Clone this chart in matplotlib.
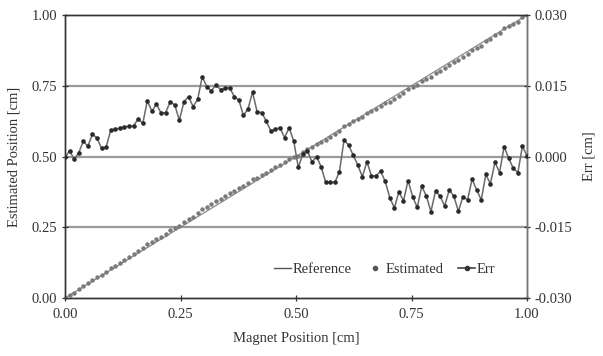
import numpy as np
import matplotlib
matplotlib.use("Agg")
import matplotlib.pyplot as plt
from matplotlib.lines import Line2D

plt.rcParams['font.family'] = ['Liberation Serif', 'DejaVu Serif']

err = [-0.0002, 0.0012, -0.0006, 0.0008, 0.0032, 0.0022, 0.0047, 0.0039, 0.0017, 0.0020,
       0.0056, 0.0058, 0.0060, 0.0063, 0.0064, 0.0065, 0.0080, 0.0070, 0.0118, 0.0096,
       0.0111, 0.0092, 0.0093, 0.0116, 0.0109, 0.0077, 0.0116, 0.0127, 0.0106, 0.0121,
       0.0169, 0.0148, 0.0139, 0.0152, 0.0142, 0.0145, 0.0146, 0.0127, 0.0120, 0.0087,
       0.0101, 0.0136, 0.0095, 0.0093, 0.0075, 0.0054, 0.0058, 0.0061, 0.0040, 0.0061,
       0.0033, -0.0023, 0.0005, 0.0012, -0.0012, 0.0000, -0.0022, -0.0055, -0.0055, -0.0055,
       -0.0032, 0.0035, 0.0024, 0.0003, -0.0018, -0.0043, -0.0011, -0.0041, -0.0041, -0.0031,
       -0.0053, -0.0087, -0.0109, -0.0075, -0.0094, -0.0051, -0.0085, -0.0108, -0.0063, -0.0084,
       -0.0117, -0.0073, -0.0084, -0.0105, -0.0071, -0.0084, -0.0116, -0.0085, -0.0092, -0.0048,
       -0.0071, -0.0092, -0.0038, -0.0058, -0.0012, -0.0034, 0.0021, -0.0004, -0.0025, -0.0034,
       0.0022, 0.0001]

magnet_pos = np.linspace(0.0, 1.0, len(err))
reference = magnet_pos
estimated = magnet_pos + np.array(err)

x_ticks = [0.0, 0.25, 0.5, 0.75, 1.0]
y_ticks = [0.0, 0.25, 0.5, 0.75, 1.0]
err_ticks = [-0.030, -0.015, 0.0, 0.015, 0.030]

fig = plt.figure(figsize=(6.03, 3.56), dpi=100)
ax = fig.add_axes([65/603, 1-298/356, (527-65)/603, (298-15)/356])
ax2 = ax.twinx()

for yv in [0.25, 0.5, 0.75]:
    ax.axhline(yv, color='#9a9a9a', lw=1.6, zorder=1)

ax.plot(magnet_pos, reference, color='#8a8a8a', lw=0.9, zorder=2)
ax.plot(magnet_pos, estimated, linestyle='none', marker='o', ms=3.2,
        color='#7a7a7a', mec='none', zorder=3)
ax2.plot(magnet_pos, err, color='#6a6a6a', lw=1.1, marker='o', ms=2.3,
         mfc='#2a2a2a', mec='#2a2a2a', zorder=4)

ax.set_xlim(0, 1)
ax.set_ylim(0, 1)
ax2.set_ylim(-0.03, 0.03)
ax.set_xticks(x_ticks)
ax.set_xticklabels([f"{v:.2f}" for v in x_ticks])
ax.set_yticks(y_ticks)
ax.set_yticklabels([f"{v:.2f}" for v in y_ticks])
ax2.set_yticks(err_ticks)
ax2.set_yticklabels([f"{v:.3f}" for v in err_ticks])

for a in (ax, ax2):
    a.tick_params(labelsize=10.5, colors='#333333', length=4, width=0.9, direction='inout')
    for s in a.spines.values():
        s.set_color('#333333')
        s.set_linewidth(1.0)
ax.tick_params(axis='x', pad=5)
ax2.spines['right'].set_color('#777777')

ax.set_xlabel('Magnet Position [cm]', fontsize=10.5, color='#333333', labelpad=8)
ax.set_ylabel('Estimated Position [cm]', fontsize=10.5, color='#333333', labelpad=8)
ax2.set_ylabel('Err [cm]', fontsize=10.5, color='#333333', labelpad=7)

handles = [Line2D([], [], color='#555555', lw=1.0),
           Line2D([], [], linestyle='none', marker='o', ms=3, color='#555555'),
           Line2D([], [], color='#333333', lw=1.1, marker='o', ms=3)]
leg = ax2.legend(handles, ['Reference', 'Estimated', 'Err'], ncol=3, frameon=False,
                 loc='lower right', bbox_to_anchor=(0.96, 0.03), fontsize=10.5,
                 handlelength=1.2, handletextpad=0.1, columnspacing=1.0)
for t in leg.get_texts():
    t.set_color('#333333')

fig.savefig('out.png', dpi=100)
